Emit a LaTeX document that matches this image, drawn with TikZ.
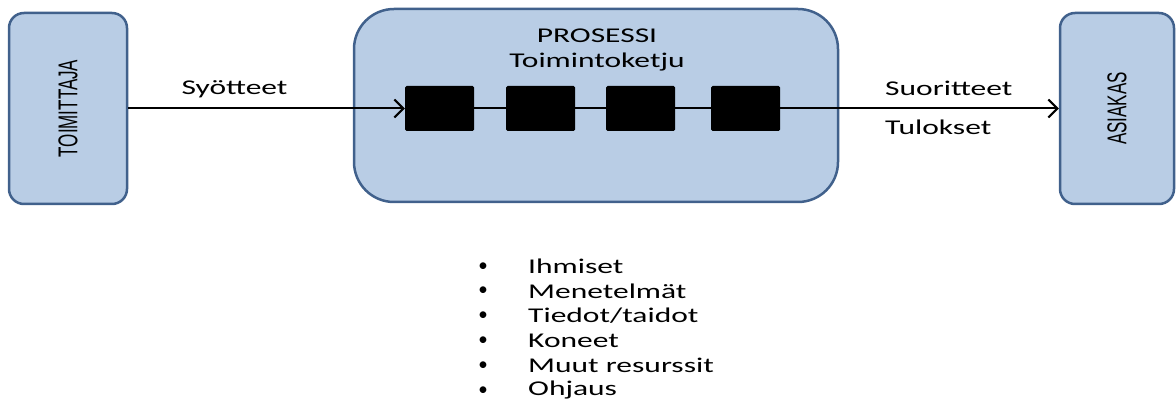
\documentclass[tikz,border=0pt]{standalone}
\usepackage{graphicx}
\usepackage{fontspec}
\setmainfont{Carlito}
\newfontfamily\sidefont{Liberation Sans}
\usetikzlibrary{arrows.meta}
\definecolor{boxfill}{HTML}{B9CDE5}
\definecolor{boxline}{HTML}{41618C}
\newcommand{\wide}[1]{\scalebox{1.5}[1]{#1}}
\newcommand{\tall}[1]{\scalebox{1}[1.6]{#1}}
\tikzset{
    party/.style = {
        draw           = boxline,
        fill           = boxfill,
        line width     = 2.5pt,
        rounded corners= 15pt,
        minimum height = 191pt,
    },
    sidetext/.style = {rotate = 90, inner sep = 0pt, font = \sidefont\fontsize{17}{20}\selectfont},
    task/.style = {
        fill            = black,
        rounded corners = 1.5pt,
        minimum width   = 69pt,
        minimum height  = 45pt,
        inner sep       = 0pt,
    },
    flow/.style = {line width = 2pt, -{Straight Barb[length=9pt, width=18pt, line width=2pt]}},
    label/.style = {font = \fontsize{21}{25}\selectfont, inner sep = 0pt},
}

\begin{document}
\begin{tikzpicture}[x=1pt, y=-1pt]
        \useasboundingbox (0,0) rectangle (1176,403);

        \node (toim) [party, minimum width=118pt] at (68,108.5) {};
        \node (toim-text) [sidetext] at (toim.center) {\tall{TOIMITTAJA}};
        \node (asiakas) [party, minimum width=114pt] at (1117,108.5) {};
        \node (asiakas-text) [sidetext] at (asiakas.center) {\tall{ASIAKAS}};

        \node (prosessi) [party, minimum width=484pt, minimum height=193pt, rounded corners=40pt] at (596,105.5) {};
        \node (otsikko) [label, align=center] at (597,50) {\wide{PROSESSI}\\\wide{Toimintoketju}};

        \node (t1) [task] at (439.5,108.5) {};
        \node (t2) [task] at (540.5,108.5) {};
        \node (t3) [task] at (640.5,108.5) {};
        \node (t4) [task] at (745.5,108.5) {};

        \draw [flow] (toim) -- (t1) node (syote) [label, midway, above=10pt, xshift=-32pt] {\wide{Syötteet}};
        \draw [line width=2pt] (t1) -- (t2) (t2) -- (t3) (t3) -- (t4);
        \draw [flow] (t4) -- (asiakas);
        \node (suorite) [label, anchor=west] at (885,88) {\wide{Suoritteet}};
        \node (tulos) [label, anchor=west] at (885,127) {\wide{Tulokset}};

        % resurssit
        \foreach \res [count=\i] in {Ihmiset, Menetelmät, Tiedot/taidot, Koneet, Muut resurssit, Ohjaus} {
            \node (bullet-\i) [label, font=\fontsize{19}{22}\selectfont] at (483, 242+24.8*\i) {•};
            \node (res-\i) [label, anchor=west] at (528, 241.5+24.8*\i) {\wide{\res}};
        }

    \end{tikzpicture}
\end{document}
